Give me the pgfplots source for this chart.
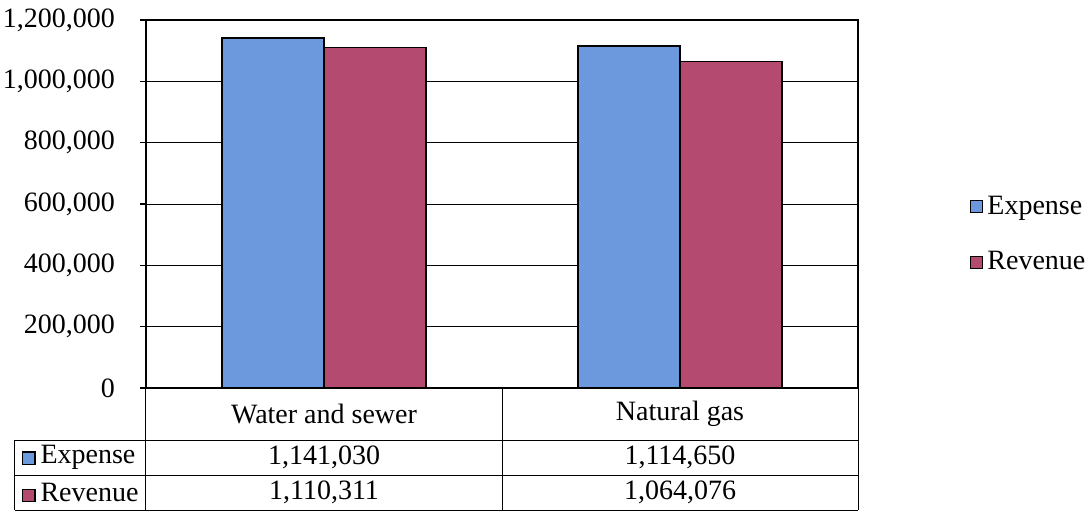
\documentclass[border=0pt]{standalone}
\usepackage{pgfplots}
\pgfplotsset{compat=1.18}
\usepackage{fontspec}
\setmainfont{Liberation Serif}
\definecolor{expblue}{RGB}{108,152,222}
\definecolor{revred}{RGB}{180,74,112}
\newcommand{\sq}[1]{{\setlength\fboxsep{0pt}\setlength\fboxrule{0.6pt}\fcolorbox{black}{#1}{\rule{0pt}{5.5pt}\rule{5.5pt}{0pt}}}}
\begin{document}
\begin{tikzpicture}
\useasboundingbox (-73pt,-66.5pt) rectangle (473pt,194pt);
\begin{axis}[
  at={(0,0)}, anchor=south west,
  scale only axis, width=356pt, height=184pt,
  xmin=-0.5, xmax=1.5, ymin=0, ymax=1200000,
  xtick=\empty,
  ytick={0,200000,400000,600000,800000,1000000,1200000},
  scaled y ticks=false,
  yticklabel style={/pgf/number format/fixed,/pgf/number format/1000 sep={,},/pgf/number format/assume math mode=true, font=\fontsize{14}{16}\selectfont, xshift=-9pt},
  ytick pos=left, tick align=outside, major tick length=3pt,
  ymajorgrids, grid style={black, line width=0.5pt},
  axis line style={black, line width=0.6pt},
  tick style={black, line width=0.6pt},
  clip=false,
  legend style={at={(rel axis cs:1.157,0.417)}, anchor=west, draw=none, fill=none,
    font=\fontsize{14}{16}\selectfont, row sep=13pt, inner sep=0pt,
    /tikz/every even column/.append style={column sep=2pt}},
  legend cell align=left,
  legend image code/.code={\draw[#1,draw=black,line width=0.6pt] (0pt,-3pt) rectangle (6pt,3pt);},
]
\addplot[ybar, bar width=51pt, bar shift=-25.5pt, fill=expblue, draw=black, line width=0.7pt]
  coordinates {(0,1141030) (1,1114650)};
\addlegendentry{Expense}
\addplot[ybar, bar width=51pt, bar shift=25.5pt, fill=revred, draw=black, line width=0.7pt]
  coordinates {(0,1110311) (1,1064076)};
\addlegendentry{Revenue}
% data table lines
\draw[black, line width=0.5pt] (axis cs:-0.868,-169565) -- (axis cs:1.5,-169565);
\draw[black, line width=0.5pt] (axis cs:-0.868,-283696) -- (axis cs:1.5,-283696);
\draw[black, line width=0.5pt] (axis cs:-0.868,-397826) -- (axis cs:1.5,-397826);
\draw[black, line width=0.5pt] (axis cs:-0.868,-169565) -- (axis cs:-0.868,-397826);
\draw[black, line width=0.5pt] (axis cs:-0.5,0) -- (axis cs:-0.5,-397826);
\draw[black, line width=0.5pt] (axis cs:0.5,0) -- (axis cs:0.5,-397826);
\draw[black, line width=0.5pt] (axis cs:1.5,0) -- (axis cs:1.5,-397826);
% table texts
\begin{scope}[every node/.style={font=\fontsize{14}{16}\selectfont, inner sep=0pt}]
\node at (axis cs:0,-84783) {Water and sewer};
\node at (axis cs:1,-84783) {Natural gas};
\node at (axis cs:0,-226630) {1,141,030};
\node at (axis cs:1,-226630) {1,114,650};
\node at (axis cs:0,-340761) {1,110,311};
\node at (axis cs:1,-340761) {1,064,076};
\node[anchor=west] at (axis cs:-0.849,-226630) {\sq{expblue}\hspace{2.5pt}Expense};
\node[anchor=west] at (axis cs:-0.849,-340761) {\sq{revred}\hspace{2.5pt}Revenue};
\end{scope}
\end{axis}
\end{tikzpicture}
\end{document}
